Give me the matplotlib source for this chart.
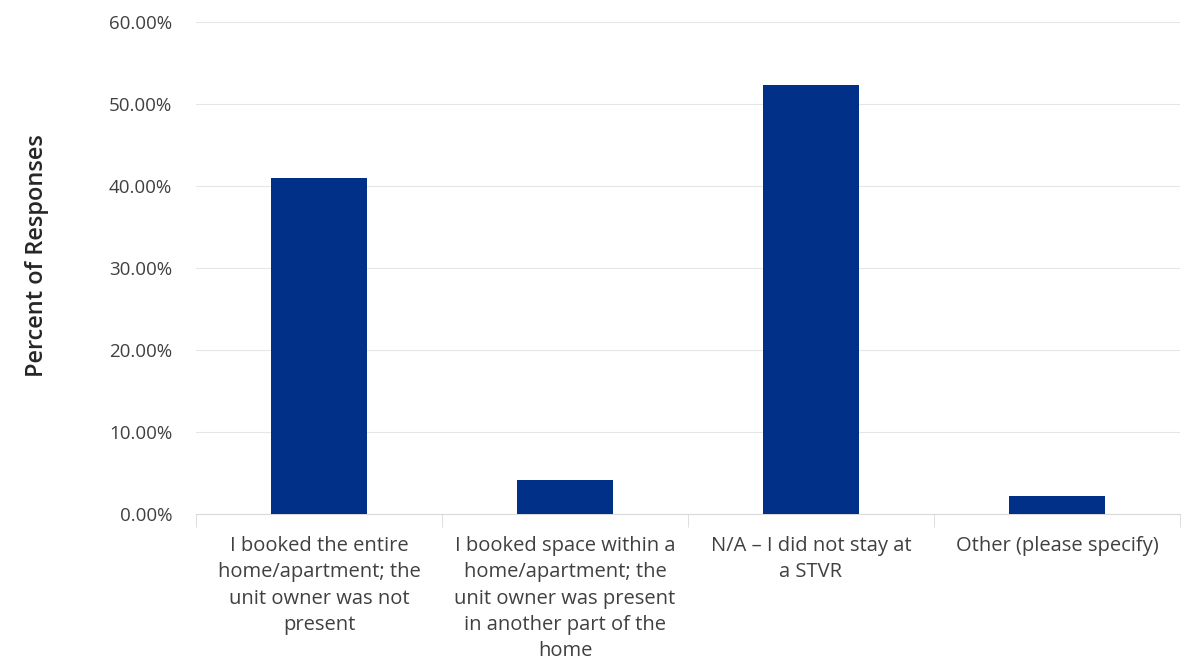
import matplotlib
matplotlib.use('Agg')
import matplotlib.pyplot as plt
import numpy as np

categories = ['I booked the entire\nhome/apartment; the\nunit owner was not\npresent',
              'I booked space within a\nhome/apartment; the\nunit owner was present\nin another part of the\nhome',
              'N/A – I did not stay at\na STVR',
              'Other (please specify)']
values = [41.0, 4.15, 52.3, 2.2]
yticks = [0, 10, 20, 30, 40, 50, 60]

plt.rcParams['font.family'] = ['Open Sans', 'DejaVu Sans']

fig = plt.figure(figsize=(11.89, 6.69), dpi=100)
ax = fig.add_axes([0.1648, 0.2317, 0.8276, 0.7353])

x = np.arange(len(categories))
ax.bar(x, values, width=0.39, color='#003087', zorder=3)

ax.set_xlim(-0.5, len(categories) - 0.5)
ax.set_ylim(0, 60)
ax.set_yticks(yticks)
ax.set_yticklabels(['%.2f%%' % v for v in yticks], fontsize=13.5, color='#404040')
ax.yaxis.grid(True, color='#e6e6e6', linewidth=0.8, zorder=0)
ax.tick_params(axis='y', length=0, pad=17)

ax.set_xticks(x)
ax.set_xticklabels(categories, fontsize=14.5, color='#404040', linespacing=1.41)
ax.set_xticks(np.arange(len(categories) + 1) - 0.5, minor=True)
ax.tick_params(axis='x', which='major', length=0, pad=16)
ax.tick_params(axis='x', which='minor', length=9, color='#d9d9d9')

for s in ['top', 'right', 'left']:
    ax.spines[s].set_visible(False)
ax.spines['bottom'].set_color('#d9d9d9')

ax.set_ylabel('Percent of Responses', fontsize=17, color='#262626', fontweight='semibold')
ax.yaxis.set_label_coords(-0.149, 0.525)

fig.savefig('out.png', dpi=100)
